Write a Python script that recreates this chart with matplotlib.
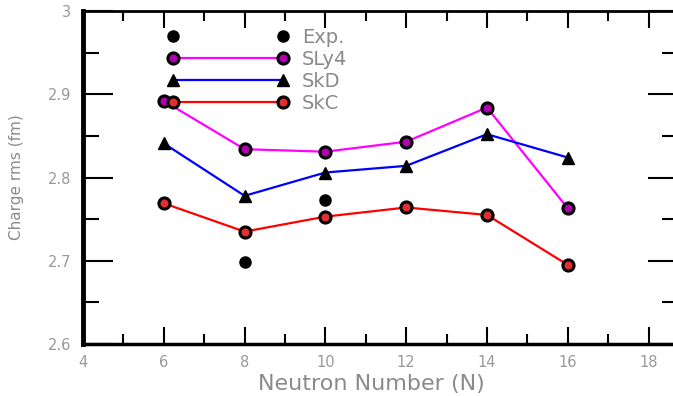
import numpy as np
import matplotlib
matplotlib.use("Agg")
from matplotlib import pyplot as plt
from matplotlib.ticker import MultipleLocator, FuncFormatter

# neutron numbers and charge radii (fm)
n_exp = [8, 10]
r_exp = [2.699, 2.773]

n_calc = [6, 8, 10, 12, 14, 16]
r_sly4 = [2.892, 2.834, 2.831, 2.843, 2.884, 2.763]
r_skd = [2.841, 2.778, 2.806, 2.814, 2.852, 2.824]
r_skc = [2.769, 2.735, 2.753, 2.764, 2.755, 2.695]

x_ticks = [4, 6, 8, 10, 12, 14, 16, 18]
y_ticks = [2.6, 2.7, 2.8, 2.9, 3.0]

text_grey = '#8a8a8a'

fig = plt.figure(figsize=(6.73, 3.96), dpi=100)
ax = fig.add_axes([83 / 673, 1 - 344 / 396, 595 / 673, 333 / 396])

ax.plot(n_calc, r_sly4, color='#ff00ff', lw=1.6, marker='o', ms=8,
        mfc='#b000b0', mec='black', mew=2.2, label='SLy4', zorder=3)
ax.plot(n_calc, r_skd, color='#0000ff', lw=1.6, marker='^', ms=8.5,
        mfc='black', mec='black', label='SkD', zorder=3)
ax.plot(n_calc, r_skc, color='#ff0000', lw=1.6, marker='o', ms=8,
        mfc='#e03030', mec='black', mew=2.2, label='SkC', zorder=3)
ax.plot(n_exp, r_exp, ls='none', marker='o', ms=8, mfc='black',
        mec='black', label='Exp.', zorder=4)

ax.set_xlim(4, 4 + 595 / 40.4)
ax.set_ylim(2.6, 3.0)
ax.set_xticks(x_ticks)
ax.set_yticks(y_ticks)
ax.xaxis.set_minor_locator(MultipleLocator(1))
ax.yaxis.set_minor_locator(MultipleLocator(0.05))
ax.yaxis.set_major_formatter(FuncFormatter(lambda v, p: '%g' % round(v, 2)))

ax.tick_params(axis='both', which='both', direction='in', top=True, right=True,
               width=1.5, colors='black', labelcolor='#999999', labelsize=10.5)
ax.tick_params(axis='y', which='major', length=21.6, pad=8.6)
ax.tick_params(axis='y', which='minor', length=11.5)
ax.tick_params(axis='x', which='major', length=12.5, pad=8)
ax.tick_params(axis='x', which='minor', length=7)

ax.spines['left'].set_linewidth(3.5)
ax.spines['bottom'].set_linewidth(2.5)
ax.spines['top'].set_linewidth(2)
ax.spines['right'].set_linewidth(2)

ax.set_xlabel('Neutron Number (N)', fontsize=16, color=text_grey)
ax.xaxis.set_label_coords((371 - 83) / 595, -(374 - 344) / 333)
ax.set_ylabel('Charge rms (fm)', fontsize=11, color=text_grey)
ax.yaxis.set_label_coords(-(83 - 24) / 595, 0.5)

handles, labels = ax.get_legend_handles_labels()
order = [3, 0, 1, 2]
leg = ax.legend([handles[i] for i in order], [labels[i] for i in order],
                loc='upper left', bbox_to_anchor=(0.141, 0.949), frameon=False,
                numpoints=2, handlelength=6.27, handletextpad=0.67,
                labelspacing=0.15, borderpad=0, borderaxespad=0, fontsize=14)
for t in leg.get_texts():
    t.set_color(text_grey)

fig.savefig('out.png', dpi=100)
